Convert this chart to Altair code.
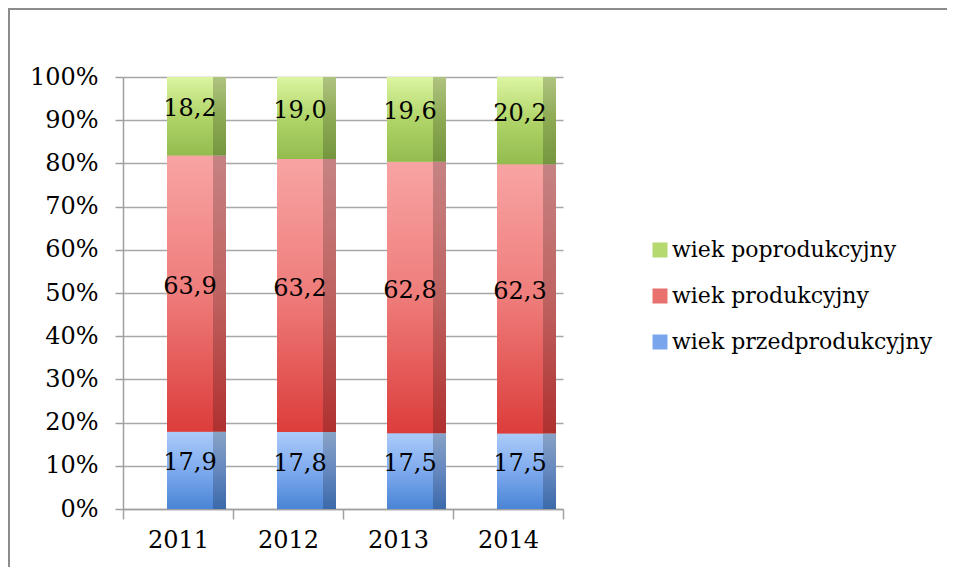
import altair as alt
import pandas as pd

years = ["2011", "2012", "2013", "2014"]
przed = [17.9, 17.8, 17.5, 17.5]
prod = [63.9, 63.2, 62.8, 62.3]
popr = [18.2, 19.0, 19.6, 20.2]
series = ["wiek przedprodukcyjny", "wiek produkcyjny", "wiek poprodukcyjny"]
legend_order = ["wiek poprodukcyjny", "wiek produkcyjny", "wiek przedprodukcyjny"]
legend_colors = ["#b5d96e", "#e8706e", "#78a5ec"]
gradients = {
    "wiek poprodukcyjny": ["#dcf5a2", "#b0d468", "#93bc4f"],
    "wiek produkcyjny": ["#f8a4a4", "#ee7c7a", "#dc3d3b"],
    "wiek przedprodukcyjny": ["#abcbf9", "#7eaaee", "#4a84d5"],
}

rows = []
for i, yr in enumerate(years):
    for k, (s, vals) in enumerate(zip(series, [przed, prod, popr])):
        rows.append({
            "rok": yr,
            "grupa": s,
            "wartosc": vals[i],
            "kolejnosc": k,
            "etykieta": f"{vals[i]:.1f}".replace(".", ","),
        })
df = pd.DataFrame(rows)

FONT = "DejaVu Serif"
FS = 24

base = alt.Chart(df).transform_stack(
    stack="wartosc",
    groupby=["rok"],
    as_=["y0", "y1"],
    offset="normalize",
    sort=[alt.SortField("kolejnosc", order="ascending")],
).transform_calculate(ymid="(datum.y0 + datum.y1) / 2")

x_enc = alt.X(
    "rok:N",
    title=None,
    scale=alt.Scale(paddingInner=0, paddingOuter=0),
    axis=alt.Axis(
        labelAngle=0, labelFont=FONT, labelFontSize=FS, labelColor="#000000",
        tickBand="extent", tickSize=10, tickColor="#a0a0a0", domainColor="#a0a0a0",
        domainWidth=1.5, tickWidth=1.5, labelPadding=9,
    ),
)
y_enc = alt.Y(
    "y0:Q",
    title=None,
    scale=alt.Scale(domain=[0, 1]),
    axis=alt.Axis(
        format=".0%", values=[i / 10 for i in range(11)], labelFont=FONT,
        labelFontSize=FS, labelColor="#000000", tickSize=8, tickColor="#a0a0a0",
        domainColor="#a0a0a0", domainWidth=1.5, tickWidth=1.5, labelPadding=17,
        grid=True, gridColor="#a8a8a8", gridWidth=1.5,
    ),
)

color_enc = alt.Color(
    "grupa:N",
    scale=alt.Scale(domain=legend_order, range=legend_colors),
    legend=alt.Legend(
        title=None, orient="none", legendX=526, legendY=162,
        labelFont=FONT, labelFontSize=22, labelColor="#000000", labelLimit=0,
        symbolType="square", symbolSize=225, symbolStrokeWidth=0,
        symbolOpacity=1, labelOffset=1, rowPadding=24,
    ),
)

face = base.mark_bar(size=46, xOffset=12).encode(x=x_enc, y=y_enc, y2="y1:Q", color=color_enc)

layers = [face]
for s in series:
    c = gradients[s]
    grad = alt.Gradient(
        gradient="linear", x1=0, y1=0, x2=0, y2=1,
        stops=[
            alt.GradientStop(color=c[0], offset=0),
            alt.GradientStop(color=c[1], offset=0.5),
            alt.GradientStop(color=c[2], offset=1),
        ],
    )
    sub = base.transform_filter(alt.datum.grupa == s)
    layers.append(sub.mark_bar(size=46, xOffset=12, fill=grad).encode(
        x="rok:N", y="y0:Q", y2="y1:Q"))
    layers.append(sub.mark_bar(size=13, xOffset=41.5, fill=grad).encode(
        x="rok:N", y="y0:Q", y2="y1:Q"))

shade_side = base.mark_bar(size=13, xOffset=41.5, fill="#000000", fillOpacity=0.2).encode(
    x="rok:N", y="y0:Q", y2="y1:Q"
)
layers.append(shade_side)

labels = base.mark_text(
    font=FONT, fontSize=FS, color="#000000", xOffset=12, dy=-7
).encode(x="rok:N", y="ymid:Q", text="etykieta:N")
layers.append(labels)

frame_top = alt.Chart(df).mark_rule(color="#8c8c8c", strokeWidth=2).encode(
    x=alt.value(-115), x2=alt.value(824), y=alt.value(-68)
)
frame_left = alt.Chart(df).mark_rule(color="#8c8c8c", strokeWidth=2).encode(
    x=alt.value(-114), y=alt.value(-69), y2=alt.value(500)
)
layers += [frame_top, frame_left]

chart = alt.layer(*layers).properties(
    width=440,
    height=432,
    autosize=alt.AutoSizeParams(type="none"),
    padding={"left": 115, "top": 69, "right": 384, "bottom": 58},
).configure_view(stroke=None)

chart.save("out.html", embed_options={"renderer": "svg", "actions": False})
